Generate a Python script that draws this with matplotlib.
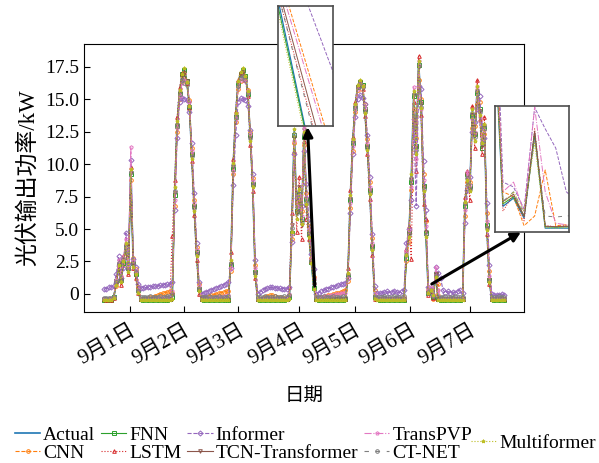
import matplotlib
matplotlib.use('Agg')
import matplotlib.pyplot as plt
import numpy as np

plt.rcParams['font.family'] = ['Liberation Serif', 'Noto Sans CJK SC']
plt.rcParams['font.size'] = 14

# hourly PV output, 1-7 Sept (kW)
date_labels = ['9月1日', '9月2日', '9月3日', '9月4日', '9月5日', '9月6日', '9月7日']
date_ticks = [10.5, 32.7, 55.1, 80.0, 102.8, 125.6, 149.9]
y_ticks = [0, 2.5, 5.0, 7.5, 10.0, 12.5, 15.0, 17.5]
y_tick_labels = ['0', '2.5', '5.0', '7.5', '10.0', '12.5', '15.0', '17.5']

actual = [
    -0.45, -0.45, -0.45, -0.45, -0.3,
    0.8, 2.3, 0.9, 2.6, 3.8, 1.8, 9.5, 2.2, 1.6, 0.2,
    -0.45, -0.45, -0.45, -0.45, -0.45, -0.45, -0.45, -0.45, -0.45, -0.45, -0.45, -0.45, -0.45,
    -0.3, 8.0, 13.2, 15.6, 16.8, 17.3, 16.3, 14.6, 10.5, 6.5, 3.0, 0.3,
    -0.45, -0.45, -0.45, -0.45, -0.45, -0.45, -0.45, -0.45, -0.45, -0.45, -0.45, -0.45,
    2.5, 10.0, 13.8, 16.3, 17.0, 17.3, 16.7, 15.6, 11.9, 8.3, 1.5,
    -0.45, -0.45, -0.45, -0.45, -0.45, -0.45, -0.45, -0.45, -0.45, -0.45, -0.45, -0.45, -0.45,
    -0.3, 5.0, 12.5, 6.0, 8.0, 5.5, 12.4, 7.0, 4.5, 2.5, 0.45,
    -0.45, -0.45, -0.45, -0.45, -0.45, -0.45, -0.45, -0.45, -0.45, -0.45, -0.45, -0.45, -0.45,
    1.5, 7.5, 11.8, 14.5, 16.0, 16.4, 16.0, 14.0, 11.2, 7.8, 3.5, -0.3,
    -0.45, -0.45, -0.45, -0.45, -0.45, -0.45, -0.45, -0.45, -0.45, -0.45, -0.45, -0.45,
    3.0, 4.5, 9.0, 15.5, 11.0, 17.8, 14.5, 8.0, 4.5, 0.0, 0.17, -0.24, 1.5,
    -0.45, -0.45, -0.45, -0.45, -0.45, -0.45, -0.45, -0.45, -0.45, -0.45, -0.45,
    7.0, 9.0, 8.0, 14.0, 12.0, 15.8, 14.0, 11.5, 13.0, 5.0, 1.0,
    -0.45, -0.45, -0.45, -0.45, -0.45, -0.45,
]

cnn = [
    -0.38, -0.4, -0.38, -0.4, -0.2,
    0.6, 2.0, 1.3, 2.2, 3.4, 2.4, 8.8, 2.8, 1.9, 0.5,
    -0.35, -0.38, -0.35, -0.3, -0.25, -0.2, -0.12, -0.05, 0.0, 0.05, 0.1, 0.15, 0.2,
    0.1, 6.8, 12.5, 15.0, 16.3, 16.5, 16.2, 14.9, 11.2, 7.2, 3.6, 0.8,
    -0.2, -0.25, -0.2, -0.15, -0.1, -0.05, 0.0, 0.05, 0.1, 0.15, 0.2, 0.25,
    1.8, 9.2, 13.2, 15.8, 16.4, 16.6, 16.5, 15.7, 12.5, 8.9, 2.2,
    -0.3, -0.35, -0.3, -0.2, -0.15, -0.1, -0.1, -0.15, -0.2, -0.25, -0.3, -0.3, -0.3,
    -0.1, 4.2, 11.6, 7.0, 7.2, 6.4, 11.5, 7.8, 5.2, 2.74, 1.28,
    -0.2, -0.3, -0.25, -0.2, -0.15, -0.1, -0.05, 0.0, 0.05, 0.1, 0.15, 0.2, 0.3,
    1.0, 6.6, 11.0, 14.0, 15.7, 16.2, 16.1, 14.6, 11.9, 8.6, 4.3, 0.3,
    -0.35, -0.38, -0.35, -0.4, -0.35, -0.38, -0.35, -0.4, -0.38, -0.35, -0.38, -0.3,
    2.5, 4.0, 8.0, 14.2, 12.0, 16.5, 15.0, 9.2, 5.6, 0.3, 0.2, -0.4, -0.2,
    0.75, -0.4, -0.38, -0.4, -0.38, -0.35, -0.4, -0.38, -0.4, -0.38, -0.3,
    6.0, 8.6, 8.6, 12.8, 12.9, 14.6, 14.8, 12.2, 12.3, 6.2, 1.8,
    -0.3, -0.38, -0.4, -0.38, -0.4, -0.38,
]

fnn = [
    -0.43, -0.44, -0.43, -0.44, -0.25,
    1.0, 2.1, 1.1, 2.4, 3.6, 2.0, 9.2, 2.4, 1.5, 0.3,
    -0.42, -0.43, -0.42, -0.43, -0.42, -0.43, -0.42, -0.43, -0.42, -0.43, -0.42, -0.43, -0.42,
    -0.2, 7.6, 12.9, 15.4, 16.9, 17.2, 16.4, 14.4, 10.8, 6.8, 3.2, 0.4,
    -0.42, -0.43, -0.42, -0.43, -0.42, -0.43, -0.42, -0.43, -0.42, -0.43, -0.42, -0.43,
    2.2, 9.6, 13.6, 16.1, 16.9, 17.2, 16.8, 15.4, 12.2, 8.5, 1.7,
    -0.42, -0.43, -0.42, -0.43, -0.42, -0.43, -0.42, -0.43, -0.42, -0.43, -0.42, -0.43, -0.42,
    -0.2, 4.7, 12.2, 6.4, 7.7, 5.8, 12.1, 7.3, 4.6, 2.45, 0.45,
    -0.42, -0.43, -0.42, -0.43, -0.42, -0.43, -0.42, -0.43, -0.42, -0.43, -0.42, -0.43, -0.42,
    1.3, 7.2, 11.6, 14.3, 15.9, 16.3, 16.1, 14.2, 11.4, 8.0, 3.7, -0.2,
    -0.42, -0.43, -0.42, -0.43, -0.42, -0.43, -0.42, -0.43, -0.42, -0.43, -0.42, -0.43,
    2.8, 4.8, 8.6, 15.2, 11.4, 17.6, 14.8, 8.3, 4.7, 0.05, 0.2, -0.2, 1.5,
    -0.42, -0.43, -0.42, -0.43, -0.42, -0.43, -0.42, -0.43, -0.42, -0.43, -0.42,
    6.8, 9.2, 8.3, 13.7, 12.3, 15.5, 14.2, 11.2, 12.8, 5.3, 1.1,
    -0.42, -0.43, -0.42, -0.43, -0.42, -0.43,
]

lstm = [
    -0.42, -0.43, -0.42, -0.43, -0.3,
    0.9, 2.5, 0.7, 2.9, 3.5, 1.5, 9.8, 2.0, 1.2, 0.1,
    -0.4, -0.42, -0.4, -0.42, -0.4, -0.42, -0.4, -0.42, -0.4, -0.42, -0.4, -0.42, -0.4,
    4.5, 8.8, 13.6, 15.9, 17.0, 17.1, 16.2, 14.3, 10.2, 6.1, 2.6, 0.0,
    -0.4, -0.42, -0.4, -0.42, -0.4, -0.42, -0.4, -0.42, -0.4, -0.42, -0.4, -0.42,
    3.2, 10.4, 14.1, 16.5, 17.1, 17.0, 16.5, 15.2, 11.5, 7.9, 1.2,
    -0.4, -0.42, -0.4, -0.42, -0.4, -0.42, -0.4, -0.42, -0.4, -0.42, -0.4, -0.42, -0.4,
    0.5, 6.2, 11.0, 4.8, 9.0, 4.2, 11.8, 5.8, 4.2, 2.55, 0.9,
    -0.4, -0.42, -0.4, -0.42, -0.4, -0.42, -0.4, -0.42, -0.4, -0.42, -0.4, -0.42, -0.4,
    2.0, 8.0, 12.1, 14.8, 16.1, 16.3, 15.8, 13.7, 10.8, 7.3, 3.0, -0.35,
    -0.4, -0.42, -0.4, -0.42, -0.4, -0.42, -0.4, -0.42, -0.4, -0.42, -0.4, -0.42,
    3.5, 5.2, 2.7, 14.8, 9.5, 18.3, 13.8, 6.9, 5.8, -0.1, 0.25, -0.3, 1.6,
    -0.4, -0.42, -0.4, -0.42, -0.4, -0.42, -0.4, -0.42, -0.4, -0.42, -0.4,
    7.5, 9.5, 7.2, 14.5, 11.2, 16.5, 13.5, 10.8, 13.6, 4.6, 0.8,
    -0.4, -0.42, -0.4, -0.42, -0.4, -0.42,
]

informer = [
    0.35, 0.42, 0.5, 0.55, 0.65,
    1.5, 2.9, 1.2, 2.0, 4.7, 2.3, 10.3, 2.7, 2.1, 0.8,
    0.45, 0.48, 0.5, 0.52, 0.55, 0.58, 0.6, 0.62, 0.66, 0.68, 0.72, 0.75, 0.78,
    0.9, 6.5, 12.0, 14.8, 15.1, 15.0, 14.9, 14.0, 11.6, 7.8, 3.9, 0.9,
    0.0, 0.1, 0.18, 0.25, 0.32, 0.4, 0.48, 0.55, 0.62, 0.7, 0.8, 0.9,
    2.0, 8.4, 12.2, 14.8, 15.1, 15.0, 14.9, 14.5, 12.6, 9.2, 2.6,
    0.0, 0.15, 0.3, 0.4, 0.48, 0.5, 0.5, 0.48, 0.45, 0.45, 0.42, 0.4, 0.4,
    0.5, 4.0, 10.8, 7.4, 6.6, 6.8, 11.0, 8.5, 5.8, 3.09, 1.93,
    0.0, 0.1, 0.2, 0.28, 0.35, 0.42, 0.5, 0.56, 0.62, 0.68, 0.74, 0.8, 0.85,
    1.2, 6.2, 10.8, 13.6, 15.0, 15.3, 15.1, 14.6, 12.2, 9.0, 4.6, 0.6,
    0.05, 0.1, 0.05, 0.15, 0.2, 0.1, 0.15, 0.25, 0.15, 0.1, 0.2, 0.3,
    3.9, 5.0, 7.2, 13.5, 6.8, 16.0, 15.8, 10.2, 6.5, 0.5, 0.4, -0.06, 2.04,
    1.6, 1.2, 0.3, 0.1, 0.2, 0.1, 0.15, 0.1, 0.25, 0.3, 0.1,
    5.5, 8.0, 9.0, 12.5, 13.2, 14.2, 15.2, 13.0, 12.0, 7.0, 2.2,
    0.0, -0.05, -0.1, -0.05, 0.0, -0.05,
]

tcn_transformer = [
    -0.42, -0.42, -0.43, -0.42, -0.28,
    0.9, 2.2, 1.0, 2.5, 3.7, 1.9, 9.3, 2.3, 1.7, 0.25,
    -0.41, -0.42, -0.41, -0.42, -0.41, -0.42, -0.41, -0.42, -0.41, -0.42, -0.41, -0.42, -0.41,
    -0.1, 7.8, 13.0, 15.5, 16.6, 17.0, 16.4, 14.7, 10.7, 6.7, 3.1, 0.35,
    -0.41, -0.42, -0.41, -0.42, -0.41, -0.42, -0.41, -0.42, -0.41, -0.42, -0.41, -0.42,
    2.3, 9.8, 13.7, 16.2, 16.9, 17.1, 16.6, 15.5, 12.0, 8.4, 1.6,
    -0.41, -0.42, -0.41, -0.42, -0.41, -0.42, -0.41, -0.42, -0.41, -0.42, -0.41, -0.42, -0.41,
    -0.2, 5.3, 12.0, 6.3, 8.2, 5.3, 12.6, 6.8, 4.7, 2.6, 1.0,
    -0.41, -0.42, -0.41, -0.42, -0.41, -0.42, -0.41, -0.42, -0.41, -0.42, -0.41, -0.42, -0.41,
    1.4, 7.3, 11.7, 14.4, 15.9, 16.3, 15.9, 14.1, 11.3, 7.9, 3.6, -0.25,
    -0.41, -0.42, -0.41, -0.42, -0.41, -0.42, -0.41, -0.42, -0.41, -0.42, -0.41, -0.42,
    3.1, 4.6, 8.8, 15.3, 11.2, 17.5, 14.6, 8.2, 4.8, 0.1, 0.25, -0.2, 1.55,
    -0.41, -0.42, -0.41, -0.42, -0.41, -0.42, -0.41, -0.42, -0.41, -0.42, -0.41,
    6.9, 9.1, 8.1, 13.8, 12.2, 15.6, 14.1, 11.4, 12.9, 5.1, 1.1,
    -0.41, -0.42, -0.41, -0.42, -0.41, -0.42,
]

transpvp = [
    -0.4, -0.4, -0.38, -0.4, -0.25,
    1.1, 2.6, 1.4, 2.8, 4.2, 2.1, 11.3, 2.5, 1.8, 0.4,
    -0.38, -0.4, -0.38, -0.36, -0.38, -0.36, -0.35, -0.33, -0.32, -0.3, -0.28, -0.26, -0.25,
    0.2, 7.2, 12.8, 15.2, 16.2, 16.5, 16.3, 14.8, 11.0, 7.0, 3.4, 0.6,
    -0.38, -0.36, -0.35, -0.33, -0.3, -0.28, -0.25, -0.22, -0.2, -0.16, -0.13, -0.1,
    2.0, 9.5, 13.5, 15.9, 16.5, 16.6, 16.4, 15.6, 12.3, 8.7, 2.0,
    -0.38, -0.4, -0.38, -0.36, -0.35, -0.35, -0.36, -0.38, -0.38, -0.4, -0.38, -0.4, -0.38,
    0.0, 4.6, 11.8, 6.8, 7.6, 6.0, 12.9, 7.5, 5.0, 2.67, 1.21,
    -0.2, -0.25, -0.22, -0.18, -0.15, -0.12, -0.1, -0.05, -0.02, 0.0, 0.04, 0.07, 0.1,
    1.2, 7.0, 11.4, 14.2, 15.8, 16.2, 16.0, 14.3, 11.6, 8.2, 3.9, 0.0,
    -0.38, -0.4, -0.38, -0.4, -0.38, -0.36, -0.38, -0.4, -0.38, -0.4, -0.38, -0.36,
    3.3, 4.9, 8.2, 15.9, 10.4, 17.9, 14.2, 8.8, 5.2, 0.3, 0.5, -0.1, 2.05,
    0.3, -0.35, -0.38, -0.4, -0.38, -0.4, -0.38, -0.36, -0.38, -0.4, -0.38,
    6.5, 9.4, 8.4, 13.5, 12.5, 15.9, 13.6, 11.8, 12.6, 5.6, 1.4,
    -0.38, -0.4, -0.38, -0.4, -0.38, -0.4,
]

ct_net = [
    -0.3, -0.3, -0.28, -0.3, -0.2,
    0.9, 2.4, 1.0, 2.7, 3.6, 1.9, 9.4, 2.3, 1.7, 0.2,
    -0.2, -0.25, -0.22, -0.2, -0.18, -0.2, -0.22, -0.2, -0.18, -0.2, -0.2, -0.18, -0.15,
    0.0, 7.9, 13.0, 15.4, 16.5, 16.2, 16.1, 14.5, 10.6, 6.6, 3.1, 0.4,
    -0.2, -0.22, -0.2, -0.18, -0.2, -0.22, -0.2, -0.18, -0.2, -0.22, -0.2, -0.18,
    2.4, 9.9, 13.6, 16.0, 16.6, 16.8, 16.5, 15.5, 12.0, 8.4, 1.6,
    -0.2, -0.22, -0.2, -0.18, -0.2, -0.22, -0.2, -0.18, -0.2, -0.22, -0.2, -0.18, -0.2,
    -0.1, 5.1, 12.3, 6.2, 7.9, 5.6, 12.3, 7.1, 4.6, 2.55, 0.85,
    -0.2, -0.22, -0.2, -0.18, -0.2, -0.22, -0.2, -0.18, -0.2, -0.22, -0.2, -0.18, -0.2,
    1.5, 7.4, 11.7, 14.4, 15.9, 16.2, 15.9, 14.0, 11.2, 7.8, 3.5, -0.2,
    -0.2, -0.22, -0.2, -0.18, -0.2, -0.22, -0.2, -0.18, -0.2, -0.22, -0.2, -0.18,
    3.0, 4.6, 8.9, 15.4, 11.1, 17.6, 14.4, 8.1, 4.6, 0.1, 0.3, -0.15, 1.4,
    -0.2, -0.22, -0.2, -0.18, -0.2, -0.22, -0.2, -0.18, -0.2, -0.22, -0.2,
    7.0, 8.9, 8.1, 13.9, 12.1, 15.6, 14.0, 11.6, 12.9, 5.1, 1.0,
    -0.2, -0.22, -0.2, -0.18, -0.2, -0.22,
]

multiformer = [
    -0.45, -0.44, -0.45, -0.44, -0.32,
    0.7, 2.2, 0.9, 2.5, 3.9, 1.7, 9.6, 2.1, 1.5, 0.1,
    -0.44, -0.45, -0.44, -0.45, -0.44, -0.45, -0.44, -0.45, -0.44, -0.45, -0.44, -0.45, -0.44,
    -0.35, 8.2, 13.3, 15.7, 16.9, 17.4, 16.3, 14.5, 10.4, 6.4, 2.9, 0.2,
    -0.44, -0.45, -0.44, -0.45, -0.44, -0.45, -0.44, -0.45, -0.44, -0.45, -0.44, -0.45,
    2.6, 10.1, 13.9, 16.4, 17.1, 17.4, 16.8, 15.6, 11.8, 8.2, 1.4,
    -0.44, -0.45, -0.44, -0.45, -0.44, -0.45, -0.44, -0.45, -0.44, -0.45, -0.44, -0.45, -0.44,
    -0.35, 4.8, 12.7, 5.8, 8.1, 5.4, 12.5, 6.9, 4.4, 2.4, 0.4,
    -0.44, -0.45, -0.44, -0.45, -0.44, -0.45, -0.44, -0.45, -0.44, -0.45, -0.44, -0.45, -0.44,
    1.6, 7.6, 11.9, 14.6, 16.1, 16.5, 16.0, 13.9, 11.1, 7.7, 3.4, -0.35,
    -0.44, -0.45, -0.44, -0.45, -0.44, -0.45, -0.44, -0.45, -0.44, -0.45, -0.44, -0.45,
    3.0, 4.4, 9.2, 15.6, 10.8, 17.9, 14.3, 7.9, 4.4, 0.05, 0.3, -0.1, 1.3,
    -0.44, -0.45, -0.44, -0.45, -0.44, -0.45, -0.44, -0.45, -0.44, -0.45, -0.44,
    7.1, 8.8, 7.9, 14.2, 11.8, 16.0, 13.8, 11.6, 13.1, 4.9, 0.9,
    -0.44, -0.45, -0.44, -0.45, -0.44, -0.45,
]

names = ['Actual', 'CNN', 'FNN', 'LSTM', 'Informer', 'TCN-Transformer',
         'TransPVP', 'CT-NET', 'Multiformer']
series = [actual, cnn, fnn, lstm, informer, tcn_transformer, transpvp, ct_net, multiformer]

# (linestyle, marker) per model, default colour cycle
styles = [('-', None), ('--', 'o'), ('-', 's'), (':', '^'), ('--', 'D'),
          ('-', 'v'), ('-.', 'p'), ((0, (4, 6)), 'o'), (':', '*')]
colors = ['C0', 'C1', 'C2', 'C3', 'C4', 'C5', 'C6', 'C7', 'C8']

fig = plt.figure(figsize=(5.99, 4.63), dpi=100)
ax = fig.add_axes([0.1402, 0.3261, 0.7346, 0.5789])

x = np.arange(len(actual))
handles = []
for name, y, (ls, mk), c in zip(names, series, styles, colors):
    lw = 1.2 if name == 'Actual' else 0.8
    h, = ax.plot(x, y, ls=ls, marker=mk, color=c, lw=lw, ms=2.6,
                 mfc='none', mew=0.7, label=name)
    handles.append(h)

ax.set_xticks(date_ticks)
ax.set_xticklabels(date_labels, rotation=30, ha='right', rotation_mode='anchor',
                   fontsize=15)
ax.set_yticks(y_ticks)
ax.set_yticklabels(y_tick_labels)
ax.tick_params(direction='in', length=4)
ax.tick_params(axis='x', pad=6)
ax.set_xlabel('日期', labelpad=14)
ax.set_ylabel('光伏输出功率/kW', fontsize=16.5)

# zoomed views
ins1 = fig.add_axes([0.4641, 0.7279, 0.0918, 0.2592])
ins2 = fig.add_axes([0.8264, 0.4989, 0.1235, 0.2721])
for ins, xl, yl in [(ins1, (85.0, 86.0), (1.5, 2.45)),
                    (ins2, (132.25, 139.25), (-0.53, 2.07))]:
    for name, y, (ls, mk), c in zip(names, series, styles, colors):
        ins.plot(x, y, ls=ls, color=c, lw=0.9 if name == 'Actual' else 0.7)
    ins.set_xlim(*xl)
    ins.set_ylim(*yl)
    ins.set_xticks([])
    ins.set_yticks([])
    for sp in ins.spines.values():
        sp.set_color('0.3')
        sp.set_linewidth(1.2)

arrow = dict(arrowstyle='-|>', color='k', lw=2.2, mutation_scale=14, shrinkA=0, shrinkB=0)
ax.annotate('', xy=(0.5134, 0.7257), xycoords='figure fraction',
            xytext=(86.4, 0.61), textcoords='data', arrowprops=arrow)
ax.annotate('', xy=(0.8698, 0.4989), xycoords='figure fraction',
            xytext=(134.4, 0.77), textcoords='data', arrowprops=arrow)

fig.legend(handles[:8], names[:8], ncol=4, loc='center left',
           bbox_to_anchor=(0.025, 0.041), frameon=False, fontsize=14,
           handlelength=1.3, handletextpad=0.15, columnspacing=0.3,
           labelspacing=0.05, borderpad=0, borderaxespad=0)
fig.legend(handles[8:], names[8:], loc='center left',
           bbox_to_anchor=(0.786, 0.043), frameon=False, fontsize=14,
           handlelength=1.3, handletextpad=0.15, borderpad=0, borderaxespad=0)

fig.savefig('out.png', dpi=100)
